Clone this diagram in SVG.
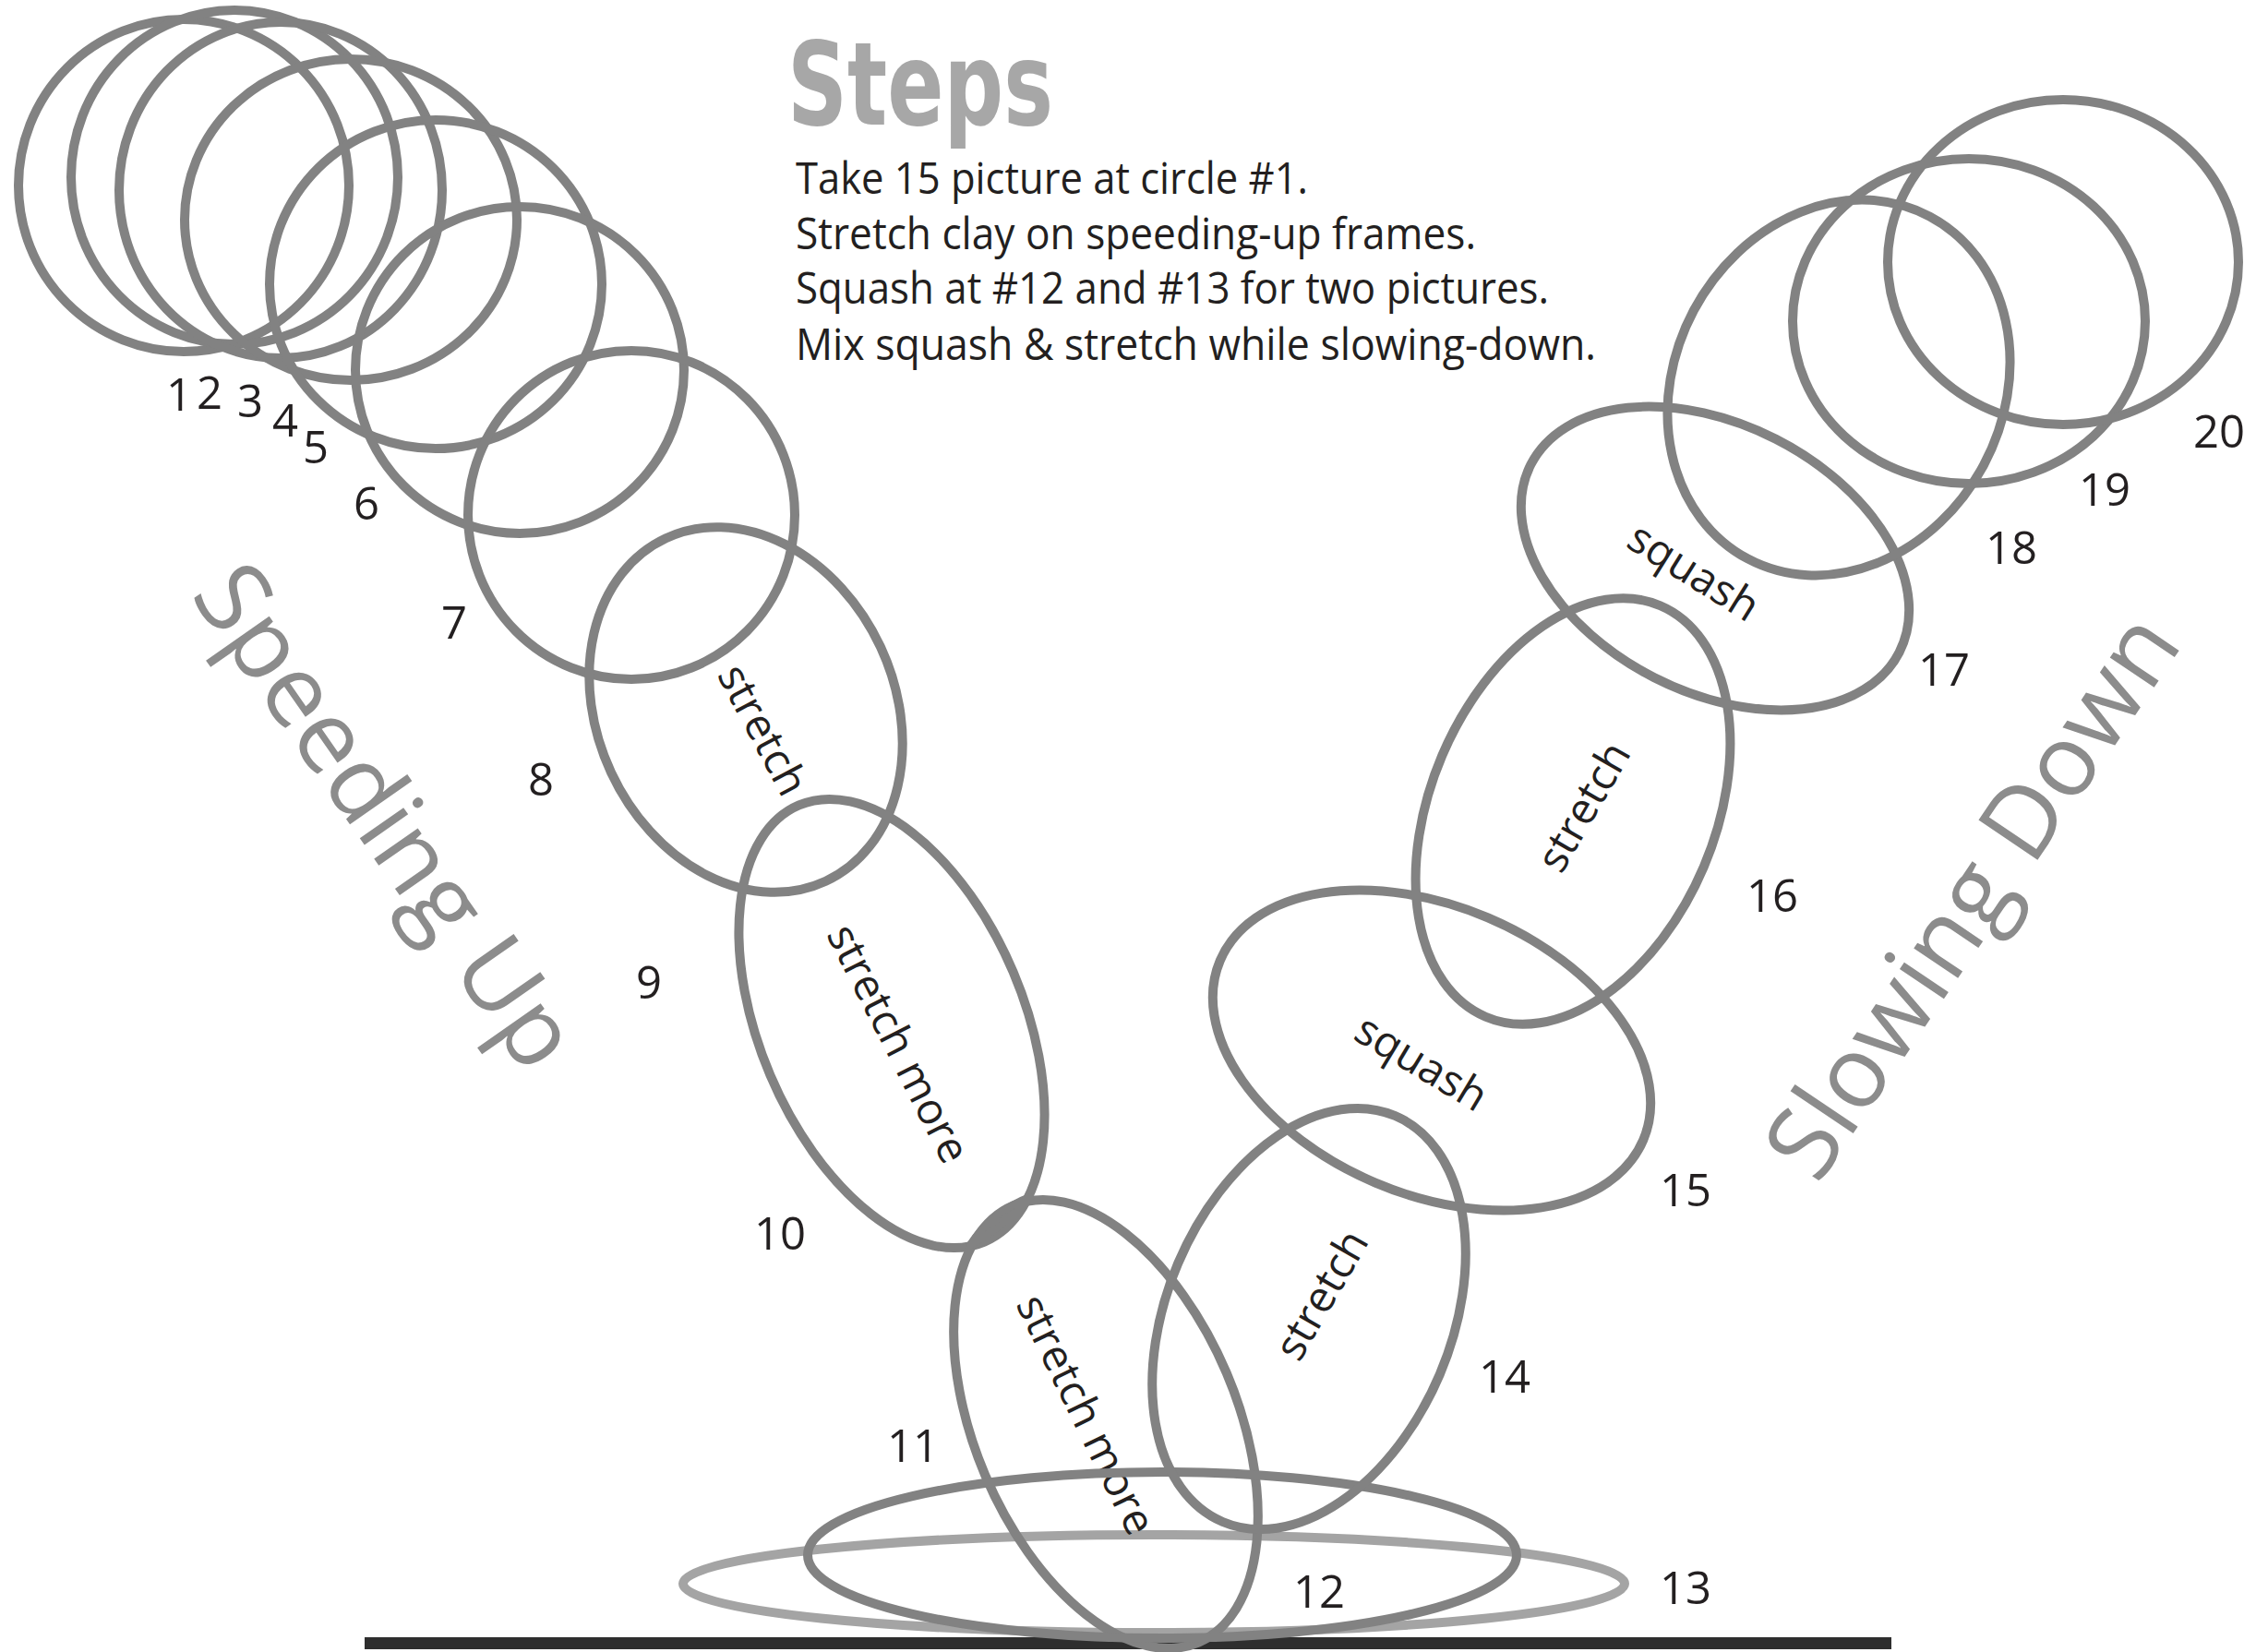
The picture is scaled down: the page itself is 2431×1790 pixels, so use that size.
<svg xmlns="http://www.w3.org/2000/svg" width="2431" height="1790" viewBox="0 0 2431 1790">
<style>
.ring{fill:none;stroke:#828282;stroke-width:10}
.light{fill:none;stroke:#a4a4a4;stroke-width:10}
.num{font-family:"Open Sans","Noto Sans",sans-serif;font-size:49px;fill:#231f20}
.body{font-family:"Open Sans","Noto Sans",sans-serif;font-size:48px;fill:#231f20}
.lbl{font-family:"Open Sans","Noto Sans",sans-serif;font-size:47px;fill:#231f20;text-anchor:middle;dominant-baseline:central}
.big{font-family:"Open Sans","Noto Sans",sans-serif;font-size:108px;fill:#8c8c8c;text-anchor:middle;dominant-baseline:central}
.title{font-family:"Liberation Sans Narrow","DejaVu Sans Condensed","DejaVu Sans",sans-serif;font-weight:bold;font-stretch:condensed;font-size:124px;fill:#a7a7a7}
</style>
<rect width="2431" height="1790" fill="#ffffff"/>
<g id="title">
<text class="title" x="853" y="135" textLength="288" lengthAdjust="spacingAndGlyphs">Steps</text>
<text class="body" x="862" y="210" textLength="555" lengthAdjust="spacingAndGlyphs">Take 15 picture at circle #1.</text>
<text class="body" x="862" y="270" textLength="737" lengthAdjust="spacingAndGlyphs">Stretch clay on speeding-up frames.</text>
<text class="body" x="862" y="329" textLength="816" lengthAdjust="spacingAndGlyphs">Squash at #12 and #13 for two pictures.</text>
<text class="body" x="862" y="390" textLength="867" lengthAdjust="spacingAndGlyphs">Mix squash &amp; stretch while slowing-down.</text>
</g>
<g id="ground"><rect x="395" y="1774" width="1654" height="13" fill="#2e2e2e"/></g>
<g id="n13"><ellipse class="light" cx="1250" cy="1716" rx="510" ry="53"/><text class="num" x="1798" y="1738">13</text></g>
<g id="n1"><ellipse class="ring" cx="199" cy="201" rx="179" ry="180"/><text class="num" x="180" y="445">1</text></g>
<g id="n2"><ellipse class="ring" cx="254" cy="192" rx="177" ry="181"/><text class="num" x="213" y="443">2</text></g>
<g id="n3"><ellipse class="ring" cx="304" cy="206" rx="175" ry="182"/><text class="num" x="257" y="452">3</text></g>
<g id="n4"><ellipse class="ring" cx="380" cy="238" rx="180" ry="174"/><text class="num" x="295" y="473">4</text></g>
<g id="n5"><ellipse class="ring" cx="472" cy="308" rx="180" ry="178"/><text class="num" x="328" y="502">5</text></g>
<g id="n6"><ellipse class="ring" cx="563" cy="401" rx="178" ry="177"/><text class="num" x="383" y="563">6</text></g>
<g id="n7"><ellipse class="ring" cx="684" cy="558" rx="177" ry="178"/><text class="num" x="478" y="692">7</text></g>
<g id="n8"><ellipse class="ring" cx="808" cy="769" rx="205" ry="161" transform="rotate(65 808 769)"/><text class="num" x="572" y="862">8</text><text class="lbl" transform="translate(828 790) rotate(62)">stretch</text></g>
<g id="n9"><ellipse class="ring" cx="966" cy="1109" rx="257" ry="143" transform="rotate(67 966 1109)"/><text class="num" x="689" y="1082">9</text><text class="lbl" transform="translate(975 1130) rotate(63)">stretch more</text></g>
<g id="n10"><ellipse class="ring" cx="1198" cy="1543" rx="257" ry="142" transform="rotate(67 1198 1543)"/><text class="num" x="817" y="1354">10</text><text class="num" x="961" y="1584">11</text><text class="lbl" transform="translate(1178 1532) rotate(64)">stretch more</text></g>
<g id="junction"><path d="M1050 1350 Q1075 1312 1118 1296 Q1092 1326 1050 1350 Z" fill="#828282" stroke="#828282" stroke-width="8"/></g>
<g id="n12"><ellipse class="ring" cx="1259" cy="1685" rx="384" ry="90"/><text class="num" x="1401" y="1742">12</text></g>
<g id="n14"><ellipse class="ring" cx="1418" cy="1429" rx="239" ry="154" transform="rotate(-67 1418 1429)"/><text class="num" x="1602" y="1509">14</text><text class="lbl" transform="translate(1430 1402) rotate(-60)">stretch</text></g>
<g id="n15"><ellipse class="ring" cx="1551" cy="1138" rx="249" ry="156" transform="rotate(23 1551 1138)"/><text class="num" x="1798" y="1307">15</text><text class="lbl" transform="translate(1541 1150) rotate(31)">squash</text></g>
<g id="n16"><ellipse class="ring" cx="1704" cy="879" rx="242" ry="154" transform="rotate(-67 1704 879)"/><text class="num" x="1892" y="988">16</text><text class="lbl" transform="translate(1714 873) rotate(-60)">stretch</text></g>
<g id="n17"><ellipse class="ring" cx="1858" cy="605" rx="224" ry="145" transform="rotate(27 1858 605)"/><text class="num" x="2078" y="743">17</text><text class="lbl" transform="translate(1836 618) rotate(32)">squash</text></g>
<g id="n18"><ellipse class="ring" cx="1992" cy="420" rx="210" ry="178" transform="rotate(-62 1992 420)"/><text class="num" x="2151" y="611">18</text></g>
<g id="n19"><ellipse class="ring" cx="2133" cy="348" rx="191" ry="176"/><text class="num" x="2252" y="548">19</text></g>
<g id="n20"><ellipse class="ring" cx="2235" cy="284" rx="190" ry="176"/><text class="num" x="2376" y="485">20</text></g>
<g id="headings">
<text class="big" transform="translate(422 882) rotate(55)">Speeding Up</text>
<text class="big" transform="translate(2133 968) rotate(-56)">Slowing Down</text>
</g>
<g id="connectors"></g>
</svg>
